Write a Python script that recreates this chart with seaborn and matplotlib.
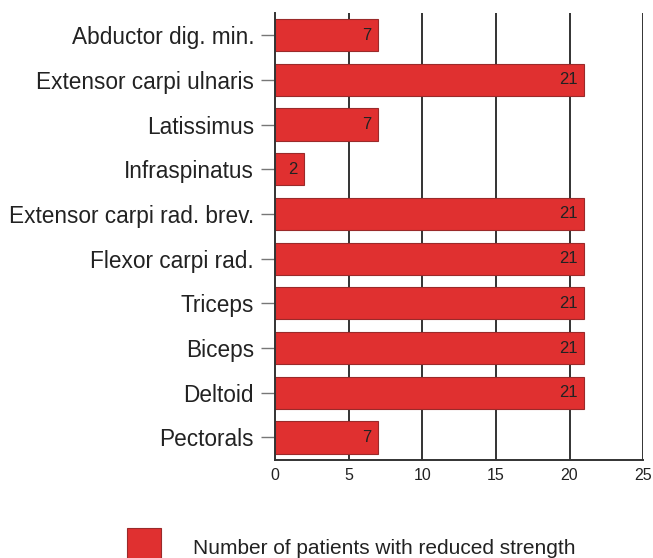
import matplotlib
matplotlib.use("Agg")
import pandas as pd
import seaborn as sns
from matplotlib import pyplot as plt
from matplotlib.patches import Rectangle

muscles = ['Abductor dig. min.', 'Extensor carpi ulnaris', 'Latissimus', 'Infraspinatus',
           'Extensor carpi rad. brev.', 'Flexor carpi rad.', 'Triceps', 'Biceps',
           'Deltoid', 'Pectorals']
patients = [7, 21, 7, 2, 21, 21, 21, 21, 21, 7]
x_ticks = [0, 5, 10, 15, 20, 25]
legend_label = 'Number of patients with reduced strength'

bar_red = '#E03030'
edge_red = '#9A2A2A'

df = pd.DataFrame({'muscle': muscles, 'patients': patients})

sns.set_style('white')
plt.rcParams['font.family'] = ['Liberation Sans', 'DejaVu Sans']

fig = plt.figure(figsize=(6.53, 5.58), dpi=100)
ax = fig.add_axes([0.421, 0.176, 0.564, 0.801])

# grid lines behind the bars
for t in x_ticks[1:]:
    ax.axvline(t, color='#333333', linewidth=1.4, zorder=0)

sns.barplot(data=df, x='patients', y='muscle', orient='h', color=bar_red,
            width=0.72, edgecolor=edge_red, linewidth=0.8, saturation=1, ax=ax, zorder=2)

labels = ax.bar_label(ax.containers[0], labels=[str(v) for v in patients],
                      padding=-5, fontsize=12, color='#222222')
for lab in labels:
    lab.set_ha('right')

ax.set_xlim(0, 25)
ax.set_ylim(9.5, -0.5)
ax.set_xticks(x_ticks)
ax.set_xlabel('')
ax.set_ylabel('')

for side in ['top', 'right']:
    ax.spines[side].set_visible(False)
ax.spines['left'].set_color('#333333')
ax.spines['left'].set_linewidth(1.4)
ax.spines['bottom'].set_color('#333333')
ax.spines['bottom'].set_linewidth(1.4)

ax.tick_params(axis='y', length=10, width=1, color='#777777', labelsize=16.3, pad=5,
               left=True, labelcolor='#222222')
ax.tick_params(axis='x', length=0, labelsize=11.5, pad=6, labelcolor='#222222')

# legend swatch and text
fig.patches.append(Rectangle((127 / 653, 1 - 560 / 558), 34 / 653, 32 / 558,
                             transform=fig.transFigure, facecolor=bar_red,
                             edgecolor=edge_red, linewidth=0.8))
fig.text(193 / 653, 1 - 548 / 558, legend_label, fontsize=15, va='center', ha='left',
         color='#222222')

fig.savefig('out.png', dpi=100)
